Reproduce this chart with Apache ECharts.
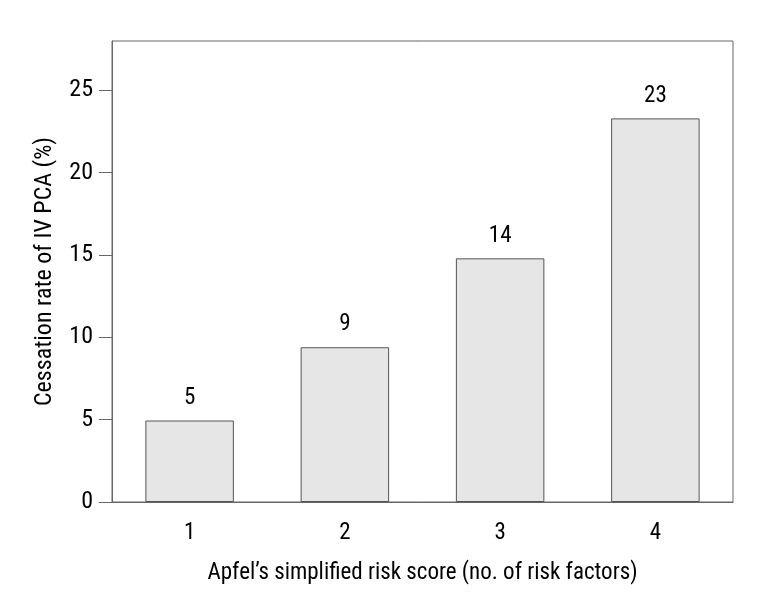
<!DOCTYPE html>
<html><head><meta charset="utf-8">
<script src="https://cdn.jsdelivr.net/npm/echarts@6/dist/echarts.min.js"></script>
<style>html,body{margin:0;padding:0;background:#fff}#c{width:777px;height:596px}</style>
</head><body><div id="c"></div>
<script>
const categories = ['1', '2', '3', '4'];
const values = [4.95, 9.4, 14.8, 23.3];
const barLabels = ['5', '9', '14', '23'];
const yTicks = [0, 5, 10, 15, 20, 25];

const font = '"Liberation Sans Narrow", "Roboto Condensed", "Liberation Sans", sans-serif';
const chart = echarts.init(document.getElementById('c'));
chart.setOption({
  animation: false,
  grid: { left: 112, top: 41, right: 44, bottom: 94, show: true, borderColor: '#666', borderWidth: 1, backgroundColor: 'transparent' },
  xAxis: {
    type: 'category', data: categories,
    name: 'Apfel\u2019s simplified risk score (no. of risk factors)',
    nameLocation: 'middle', nameGap: 60,
    nameTextStyle: { fontFamily: font, fontSize: 23, color: '#000' },
    axisLine: { lineStyle: { color: '#666' } },
    axisTick: { alignWithLabel: true, length: 13, lineStyle: { color: '#666' } },
    axisLabel: { fontFamily: font, fontSize: 23, color: '#000', margin: 20 }
  },
  yAxis: {
    type: 'value', min: 0, max: 28, interval: 5,
    name: 'Cessation rate of IV PCA (%)',
    nameLocation: 'middle', nameGap: 55,
    nameTextStyle: { fontFamily: font, fontSize: 24, color: '#000' },
    axisLine: { show: true, lineStyle: { color: '#666' } },
    axisTick: { show: true, length: 13, customValues: yTicks, lineStyle: { color: '#666' } },
    splitLine: { show: false },
    axisLabel: { fontFamily: font, fontSize: 24, color: '#000', margin: 19, customValues: yTicks }
  },
  series: [{
    type: 'bar', data: values, barWidth: '57%',
    itemStyle: { color: '#e6e6e6', borderColor: '#555', borderWidth: 1 },
    label: { show: true, position: 'top', distance: 11, fontFamily: font, fontSize: 23, color: '#000',
      formatter: p => barLabels[p.dataIndex] }
  }]
});
</script></body></html>
